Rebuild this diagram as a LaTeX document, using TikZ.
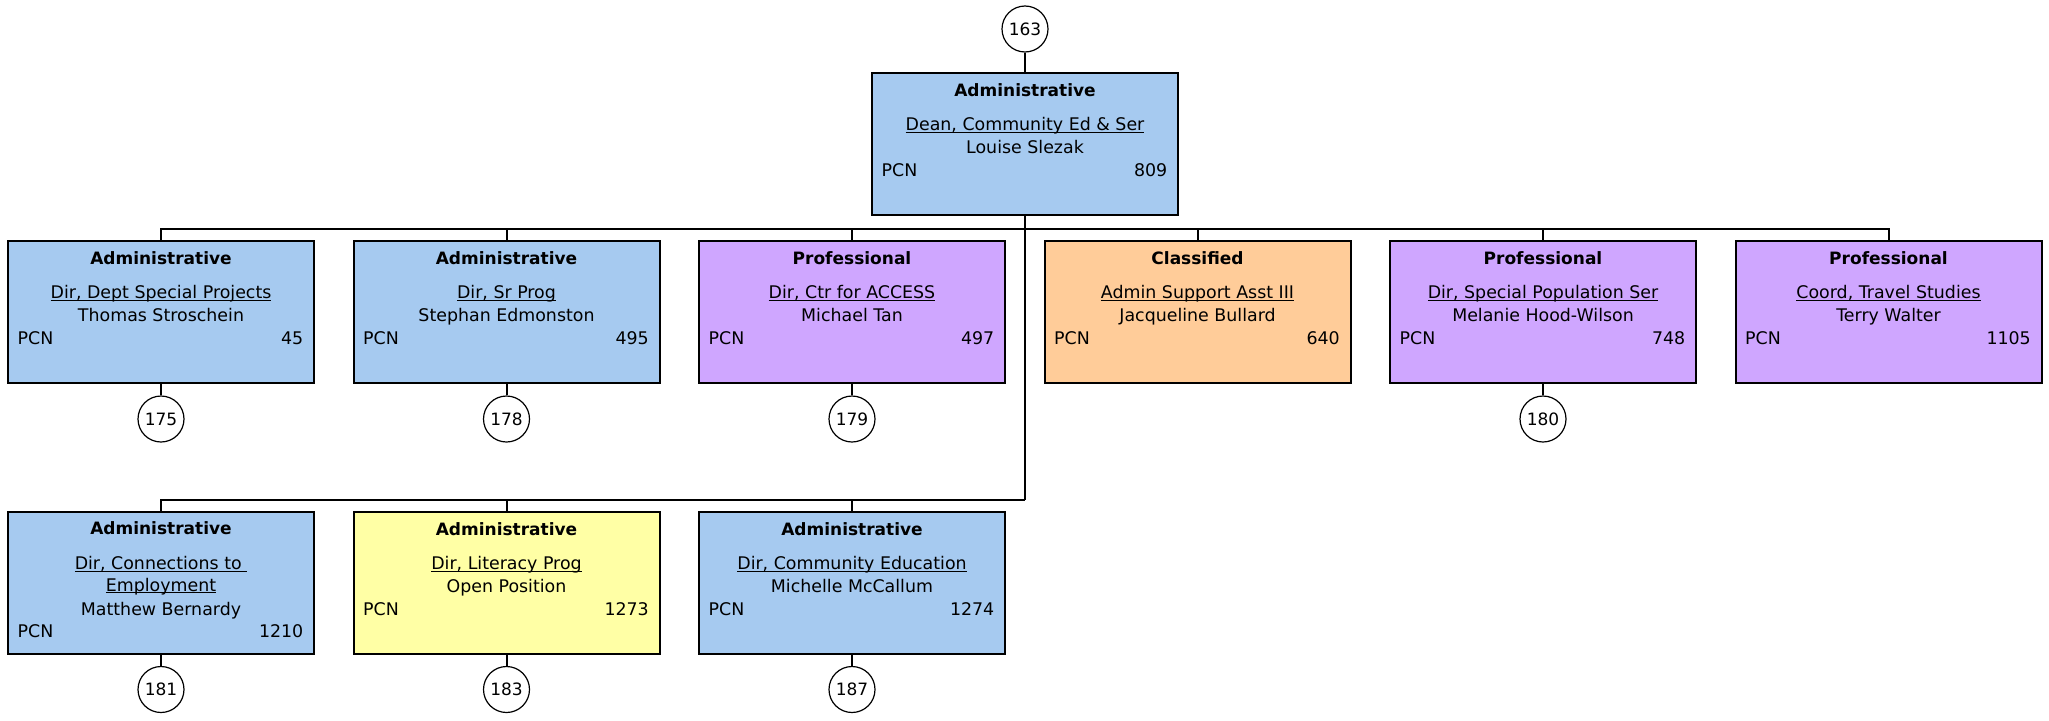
\documentclass[tikz,border=0pt]{standalone}
\usepackage{fontspec}
\setmainfont{DejaVu Sans}
\definecolor{cblue}{HTML}{A6CAF0}
\definecolor{cpurple}{HTML}{CFA6FF}
\definecolor{corange}{HTML}{FFCC99}
\definecolor{cyellow}{HTML}{FFFFA5}
\newcommand\myul[1]{\setbox0\hbox{#1}\rlap{\rule[-2.3pt]{\wd0}{1.3pt}}\box0}
\tikzset{
  obox/.style={draw=black, line width=2pt, minimum width=306pt, minimum height=142pt, inner sep=0pt},
  txt/.style={inner sep=0pt, font=\fontsize{17.4}{20}\selectfont},
  ttl/.style={txt, font=\fontsize{17}{20}\selectfont\bfseries},
  circ/.style={draw=black, line width=1.2pt, circle, minimum size=46pt, inner sep=0pt, fill=white, font=\fontsize{17}{20}\selectfont},
  conn/.style={line width=2pt}
}
% name, cx, top, fill, title, position, person, pcn
\newcommand\orgbox[8]{%
  \node[obox, fill=#4] (#1) at (#2,#3+71) {};
  \node[ttl, anchor=base] (#1-t) at (#2,#3+23) {#5};
  \node[txt, anchor=base] (#1-p) at (#2,#3+57.5) {\myul{#6}};
  \node[txt, anchor=base] (#1-n) at (#2,#3+80) {#7};
  \node[txt, anchor=base west] (#1-l) at (#2-143.5,#3+103.5) {PCN};
  \node[txt, anchor=base east] (#1-r) at (#2+142.5,#3+103.5) {#8};
}
\begin{document}
\begin{tikzpicture}[x=1pt,y=-1pt]
\useasboundingbox (0,0) rectangle (2049,720);
% top
\node[circ] (c163) at (1025,29) {163};
\orgbox{top}{1025}{73}{cblue}{Administrative}{Dean, Community Ed \& Ser}{Louise Slezak}{809}
% row 1
\orgbox{b1}{161}{241}{cblue}{Administrative}{Dir, Dept Special Projects}{Thomas Stroschein}{45}
\orgbox{b2}{506.5}{241}{cblue}{Administrative}{Dir, Sr Prog}{Stephan Edmonston}{495}
\orgbox{b3}{852}{241}{cpurple}{Professional}{Dir, Ctr for ACCESS}{Michael Tan}{497}
\orgbox{b4}{1197.5}{241}{corange}{Classified}{Admin Support Asst III}{Jacqueline Bullard}{640}
\orgbox{b5}{1543}{241}{cpurple}{Professional}{Dir, Special Population Ser}{Melanie Hood-Wilson}{748}
\orgbox{b6}{1888.5}{241}{cpurple}{Professional}{Coord, Travel Studies}{Terry Walter}{1105}
% row 2
\node[obox, fill=cblue] (d1) at (161,512+71) {};
\node[ttl, anchor=base] (d1-t) at (161,512+22) {Administrative};
\node[txt, anchor=base] (d1-p) at (161,512+57.5) {\myul{Dir, Connections to\ }};
\node[txt, anchor=base] (d1-q) at (161,512+79) {\myul{Employment}};
\node[txt, anchor=base] (d1-n) at (161,512+103) {Matthew Bernardy};
\node[txt, anchor=base west] (d1-l) at (161-143.5,512+125) {PCN};
\node[txt, anchor=base east] (d1-r) at (161+142.5,512+125) {1210};
\orgbox{d2}{506.5}{512}{cyellow}{Administrative}{Dir, Literacy Prog}{Open Position}{1273}
\orgbox{d3}{852}{512}{cblue}{Administrative}{Dir, Community Education}{Michelle McCallum}{1274}
% circles
\node[circ] (c175) at (161,419) {175};
\node[circ] (c178) at (506.5,419) {178};
\node[circ] (c179) at (852,419) {179};
\node[circ] (c180) at (1543,419) {180};
\node[circ] (c181) at (161,689.5) {181};
\node[circ] (c183) at (506.5,689.5) {183};
\node[circ] (c187) at (852,689.5) {187};
% junctions
\coordinate (j1) at (1025,229);
\coordinate (j2) at (1025,500);
% connectors
\draw[conn] (c163) -- (top);
\draw[conn] (top.south) -- (j2);
\draw[conn] (b1.north) |- (b6.north |- j1) -- (b6.north);
\foreach \b in {b2,b3,b4,b5} \draw[conn] (\b.north) -- (\b.north |- j1);
\draw[conn] (d1.north) |- (j2);
\foreach \b in {d2,d3} \draw[conn] (\b.north) -- (\b.north |- j2);
\foreach \b/\c in {b1/c175,b2/c178,b3/c179,b5/c180,d1/c181,d2/c183,d3/c187} \draw[conn] (\b.south) -- (\c.north);
\end{tikzpicture}
\end{document}
